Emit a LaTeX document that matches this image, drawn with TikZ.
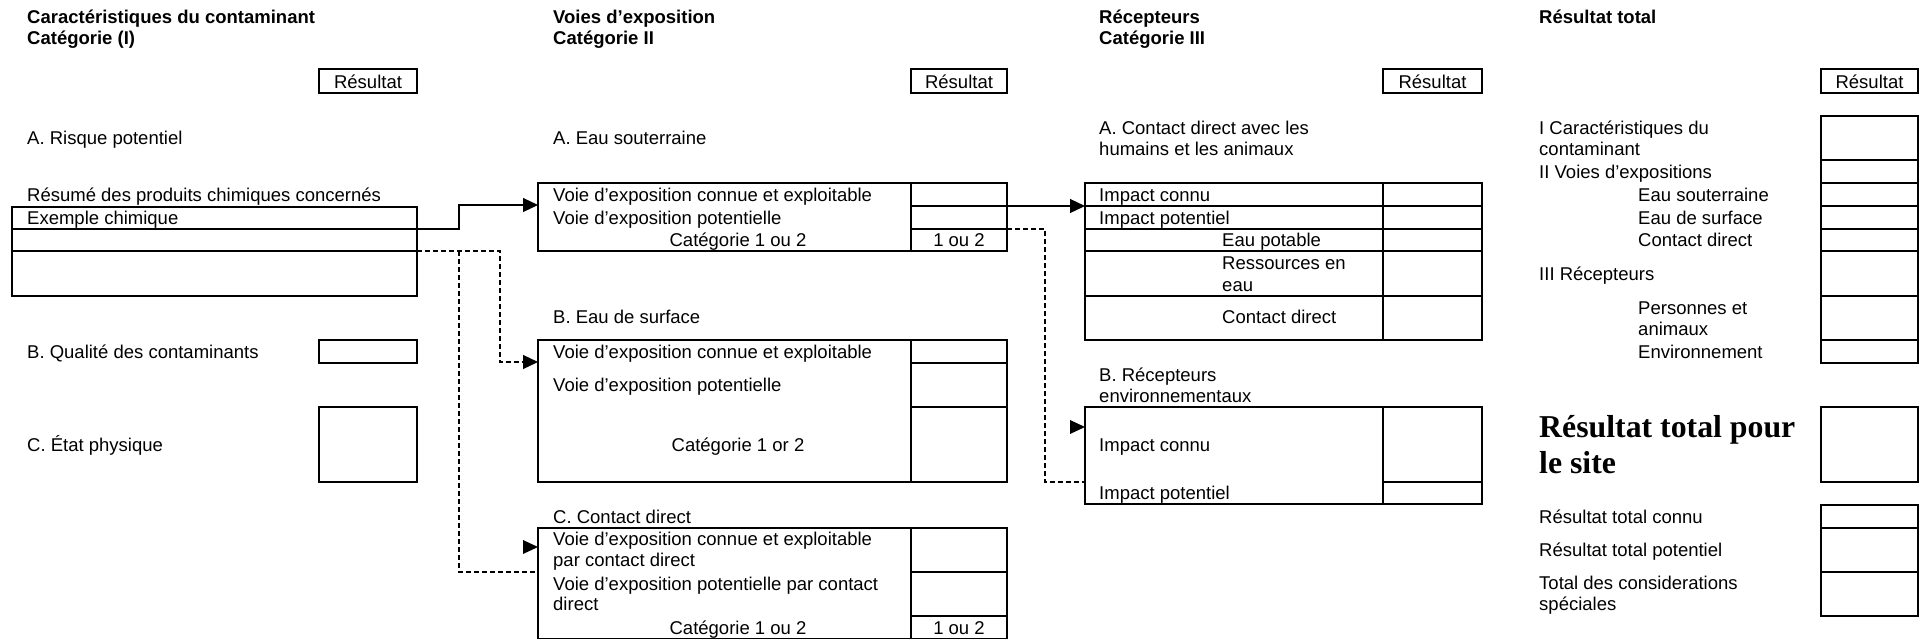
\documentclass[tikz,border=0pt]{standalone}
\usepackage{fontspec}
\setmainfont{Liberation Sans}
\newfontfamily\bigserif{Liberation Serif}
\usetikzlibrary{arrows.meta}
\newcommand\myfs{\fontsize{18.5}{21.3}\selectfont}
\begin{document}
\begin{tikzpicture}[x=1pt,y=-1pt,
  lbl/.style={anchor=base west,inner sep=0pt,font=\myfs},
  lblc/.style={anchor=base,inner sep=0pt,font=\myfs},
  hdr/.style={anchor=base west,inner sep=0pt,font=\myfs\bfseries},
  bigt/.style={anchor=base west,inner sep=0pt,font=\bigserif\bfseries\fontsize{31.8}{36}\selectfont},
  bx/.style={draw=black,line width=1.2pt},
  arr/.style={line width=1.2pt,-{Triangle[length=15pt,width=14pt]}},
  dsh/.style={line width=1.2pt,dash pattern=on 5pt off 3pt},
  tip/.style={fill=black}
]
\useasboundingbox (0,0) rectangle (1919,640);
\fill[white] (0,0) rectangle (1919,640);

% ---------- Column I ----------
\node[hdr] (h1a) at (27,23.5) {Caractéristiques du contaminant};
\node[hdr] (h1b) at (27,44.5) {Catégorie (I)};
\draw[bx] (319,69) rectangle (417,93);
\node[lblc] (r1) at (368,88.5) {Résultat};
\node[lbl] (c1a) at (27,144.5) {A. Risque potentiel};
\node[lbl] (c1b) at (27,201.5) {Résumé des produits chimiques concernés};
\draw[bx] (12,207) rectangle (417,296);
\draw[bx] (12,229) -- (417,229);
\draw[bx] (12,251) -- (417,251);
\node[lbl] (c1c) at (27,224.5) {Exemple chimique};
\node[lbl] (c1d) at (27,358.5) {B. Qualité des contaminants};
\draw[bx] (319,340) rectangle (417,363);
\node[lbl] (c1e) at (27,451.5) {C. État physique};
\draw[bx] (319,407) rectangle (417,482);

% ---------- Column II ----------
\node[hdr] (h2a) at (553,23.5) {Voies d’exposition};
\node[hdr] (h2b) at (553,44.5) {Catégorie II};
\draw[bx] (911,69) rectangle (1007,93);
\node[lblc] (r2) at (959,88.5) {Résultat};
\node[lbl] (c2a) at (553,144.5) {A. Eau souterraine};
\draw[bx] (538,183) rectangle (1007,251);
\draw[bx] (911,183) -- (911,251);
\draw[bx] (911,206) -- (1007,206);
\draw[bx] (911,229) -- (1007,229);
\node[lbl] (c2a1) at (553,201.5) {Voie d’exposition connue et exploitable};
\node[lbl] (c2a2) at (553,224.5) {Voie d’exposition potentielle};
\node[lblc] (c2a3) at (738,246.5) {Catégorie 1 ou 2};
\node[lblc] (c2a4) at (959,246.5) {1 ou 2};

\node[lbl] (c2b) at (553,323.5) {B. Eau de surface};
\draw[bx] (538,340) rectangle (1007,482);
\draw[bx] (911,340) -- (911,482);
\draw[bx] (911,363) -- (1007,363);
\draw[bx] (911,407) -- (1007,407);
\node[lbl] (c2b1) at (553,358.5) {Voie d’exposition connue et exploitable};
\node[lbl] (c2b2) at (553,391.5) {Voie d’exposition potentielle};
\node[lblc] (c2b3) at (738,451.5) {Catégorie 1 or 2};

\node[lbl] (c2c) at (553,523.5) {C. Contact direct};
\draw[bx] (538,528) rectangle (1007,638.6);
\draw[bx] (911,528) -- (911,638.6);
\draw[bx] (911,572) -- (1007,572);
\draw[bx] (911,616) -- (1007,616);
\node[lbl] (c2c1) at (553,545.5) {Voie d’exposition connue et exploitable};
\node[lbl] (c2c2) at (553,566.5) {par contact direct};
\node[lbl] (c2c3) at (553,590.5) {Voie d’exposition potentielle par contact};
\node[lbl] (c2c4) at (553,610.5) {direct};
\node[lblc] (c2c5) at (738,634.5) {Catégorie 1 ou 2};
\node[lblc] (c2c6) at (959,634.5) {1 ou 2};

% ---------- Column III ----------
\node[hdr] (h3a) at (1099,23.5) {Récepteurs};
\node[hdr] (h3b) at (1099,44.5) {Catégorie III};
\draw[bx] (1383,69) rectangle (1482,93);
\node[lblc] (r3) at (1432.5,88.5) {Résultat};
\node[lbl] (c3a) at (1099,134.5) {A. Contact direct avec les};
\node[lbl] (c3a0) at (1099,155.5) {humains et les animaux};
\draw[bx] (1085,183) rectangle (1482,340);
\draw[bx] (1383,183) -- (1383,340);
\foreach \yy in {206,229,251,296} \draw[bx] (1085,\yy) -- (1482,\yy);
\node[lbl] (c3a1) at (1099,201.5) {Impact connu};
\node[lbl] (c3a2) at (1099,224.5) {Impact potentiel};
\node[lbl] (c3a3) at (1222,246.5) {Eau potable};
\node[lbl] (c3a4) at (1222,269.5) {Ressources en};
\node[lbl] (c3a5) at (1222,291.5) {eau};
\node[lbl] (c3a6) at (1222,323.5) {Contact direct};

\node[lbl] (c3b) at (1099,381.5) {B. Récepteurs};
\node[lbl] (c3b0) at (1099,402.5) {environnementaux};
\draw[bx] (1085,407) rectangle (1482,504);
\draw[bx] (1383,407) -- (1383,504);
\draw[bx] (1383,482) -- (1482,482);
\node[lbl] (c3b1) at (1099,451.5) {Impact connu};
\node[lbl] (c3b2) at (1099,499.5) {Impact potentiel};

% ---------- Total ----------
\node[hdr] (h4a) at (1539,23.5) {Résultat total};
\draw[bx] (1821,69) rectangle (1918,93);
\node[lblc] (r4) at (1869.5,88.5) {Résultat};
\draw[bx] (1821,116) rectangle (1918,363);
\foreach \yy in {160,183,206,229,251,296,340} \draw[bx] (1821,\yy) -- (1918,\yy);
\node[lbl] (t1) at (1539,134.5) {I Caractéristiques du};
\node[lbl] (t1b) at (1539,155.5) {contaminant};
\node[lbl] (t2) at (1539,178.5) {II Voies d’expositions};
\node[lbl] (t2a) at (1638,201.5) {Eau souterraine};
\node[lbl] (t2b) at (1638,224.5) {Eau de surface};
\node[lbl] (t2c) at (1638,246.5) {Contact direct};
\node[lbl] (t3) at (1539,280.5) {III Récepteurs};
\node[lbl] (t3a) at (1638,314.5) {Personnes et};
\node[lbl] (t3b) at (1638,335.5) {animaux};
\node[lbl] (t3c) at (1638,358.5) {Environnement};
\node[bigt] (big1) at (1539,437) {Résultat total pour};
\node[bigt] (big2) at (1539,473) {le site};
\draw[bx] (1821,407) rectangle (1918,482);
\node[lbl] (s1) at (1539,523.5) {Résultat total connu};
\node[lbl] (s2) at (1539,556.5) {Résultat total potentiel};
\node[lbl] (s3) at (1539,589.5) {Total des considerations};
\node[lbl] (s3b) at (1539,610.5) {spéciales};
\draw[bx] (1821,505) rectangle (1918,616);
\draw[bx] (1821,528) -- (1918,528);
\draw[bx] (1821,572) -- (1918,572);

% ---------- Connectors ----------
\coordinate (chemOut) at (417,229);
\coordinate (gwIn) at (538,205);
\coordinate (gwOut) at (1007,206);
\coordinate (recIn) at (1085,206);
\coordinate (chemOut2) at (417,251);
\coordinate (swIn) at (538,362);
\coordinate (dcIn) at (538,572);
\coordinate (gwOut2) at (1007,229);
\coordinate (envIn) at (1085,482);

\draw[arr] (chemOut) -- (459,229) |- (gwIn);
\draw[arr] (gwOut) -- (recIn);
\draw[dsh,arr] (chemOut2) -- (500,251) |- (swIn);
\draw[dsh] (459,251) |- (dcIn);
\draw[dsh] (gwOut2) -- (1045,229) |- (envIn);
\fill[tip] (538,547) -- (523,540) -- (523,554) -- cycle;
\fill[tip] (1085,427) -- (1070,420) -- (1070,434) -- cycle;
\end{tikzpicture}
\end{document}
